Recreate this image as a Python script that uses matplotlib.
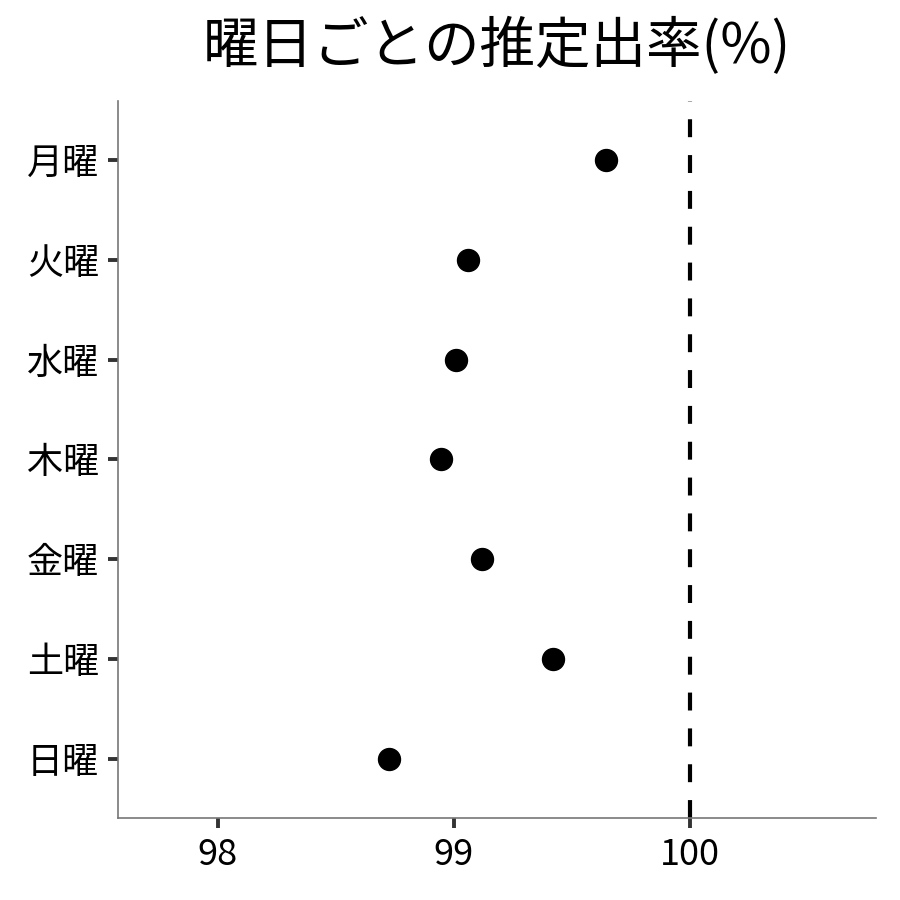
import matplotlib
matplotlib.use('Agg')
import matplotlib.pyplot as plt

plt.rcParams['font.family'] = ['Noto Sans CJK JP', 'DejaVu Sans']

# 曜日ごとの推定値
days = ['月曜', '火曜', '水曜', '木曜', '金曜', '土曜', '日曜']
rates = [99.645, 99.06, 99.008, 98.945, 99.12, 99.42, 98.725]
x_ticks = [98, 99, 100]
ref_line = 100

fig = plt.figure(figsize=(9, 9), dpi=100)
ax = fig.add_axes([0.131, 0.0911, 0.842, 0.7967])

ypos = list(range(len(days)))[::-1]
ax.scatter(rates, ypos, s=250, color='black', zorder=3)
ax.axvline(ref_line, color='black', lw=3, dashes=(4.3, 4.3), zorder=2)

ax.set_xlim(97.576, 100.788)
ax.set_ylim(-0.59, 6.59)
ax.set_yticks(ypos)
ax.set_yticklabels(days)
ax.set_xticks(x_ticks)
ax.set_xticklabels([str(t) for t in x_ticks])

ax.tick_params(axis='both', length=7.5, width=2.8, color='#333333',
               labelsize=26, labelcolor='black', pad=6)

for s in ['top', 'right']:
    ax.spines[s].set_visible(False)
for s in ['left', 'bottom']:
    ax.spines[s].set_color('#777777')
    ax.spines[s].set_linewidth(1.2)

# タイトルはパネルの中央に
fig.text(0.552, 0.948, '曜日ごとの推定出率(%)', fontsize=40, ha='center', va='center')

fig.savefig('out.png', dpi=100)
